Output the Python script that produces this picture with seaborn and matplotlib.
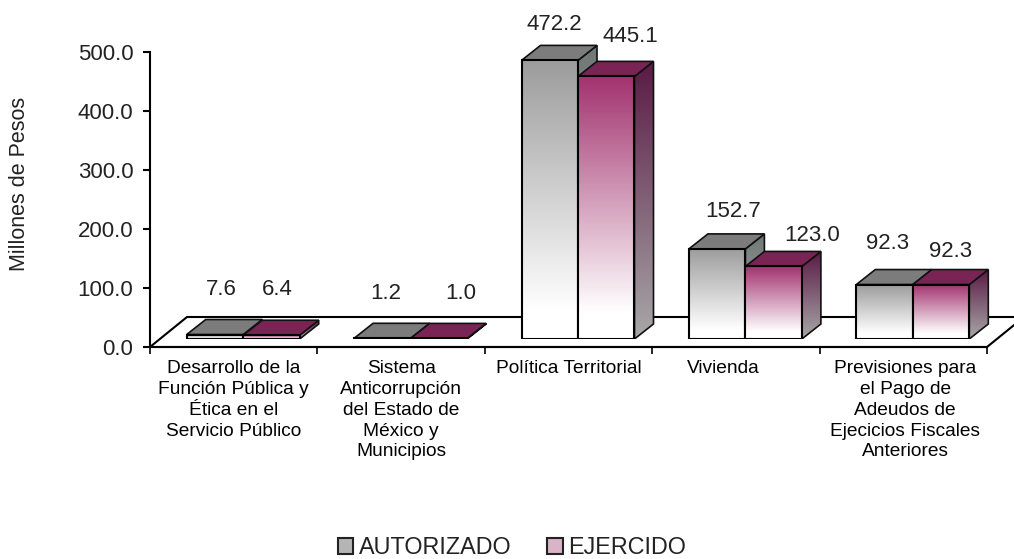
import matplotlib
matplotlib.use('Agg')
import matplotlib.pyplot as plt
import numpy as np
import pandas as pd
import seaborn as sns
from matplotlib.colors import to_rgb
from matplotlib.patches import Patch, Polygon
from matplotlib.ticker import FormatStrFormatter
from matplotlib.transforms import ScaledTranslation

categories = ['Desarrollo de la\nFunción Pública y\nÉtica en el\nServicio Público',
              'Sistema\nAnticorrupción\ndel Estado de\nMéxico y\nMunicipios',
              'Política Territorial',
              'Vivienda',
              'Previsiones para\nel Pago de\nAdeudos de\nEjecicios Fiscales\nAnteriores']
series_names = ['AUTORIZADO', 'EJERCIDO']
autorizado = [7.6, 1.2, 472.2, 152.7, 92.3]
ejercido   = [6.4, 1.0, 445.1, 123.0, 92.3]
y_ticks    = [0, 100, 200, 300, 400, 500]

# label nudges from the top of each bar, in pixels
label_nudges = [[(6, 45), (3, 45), (5, 36), (16, 37), (3, 41)],
                [(6, 46), (22, 45), (24, 40), (38, 31), (10, 33)]]
tick_nudges  = [0, 0, 0, -13, 2]

W, H = 1014, 559
plt_font = 'Liberation Sans'
sns.set_theme(style='white', font=plt_font)

# colours per series: front top, side top, side bottom, top face
styles = [('#9c9c9c', '#6f7876', '#b4b4b4', '#7c7c7c'),
          ('#a2336f', '#5a1a45', '#a8a8a8', '#7a2455')]
text_color = '#222222'

def px_rect(x0, y_bottom, x1, y_top):
    return [x0 / W, 1 - y_bottom / H, (x1 - x0) / W, (y_bottom - y_top) / H]

def gradient_fill(ax, verts, top, bottom, z, reach = 1.0):
    verts = np.array(verts)
    t = np.clip(np.linspace(0, 1, 128) / reach, 0, 1)[:, None]
    ramp = (np.array(to_rgb(top)) * (1 - t) + np.array(to_rgb(bottom)) * t).reshape(128, 1, 3)
    im = ax.imshow(ramp, extent = [verts[:, 0].min(), verts[:, 0].max(), verts[:, 1].min(), verts[:, 1].max()],
                   aspect = 'auto', origin = 'upper', zorder = z, interpolation = 'bilinear')
    im.set_clip_path(Polygon(verts, transform = ax.transData))

fig = plt.figure(figsize = (W / 100, H / 100), dpi = 100)

# Axis frame and floor
base = fig.add_axes(px_rect(150, 347, 987, 52))
base.set_xlim(0, 5)
base.set_ylim(0, 500)
base.patch.set_alpha(0)
for side in ['top', 'right']:
    base.spines[side].set_visible(False)
for side in ['left', 'bottom']:
    base.spines[side].set_linewidth(1.5)
    base.spines[side].set_color('black')

floor_dx, floor_dy = 37 / 167.4, 30 / 0.59
base.add_patch(Polygon([(0, 0), (5, 0), (5 + floor_dx, floor_dy), (floor_dx, floor_dy)], closed = True,
                       facecolor = 'white', edgecolor = 'black', linewidth = 1.5, clip_on = False, zorder = 1))

base.set_yticks(y_ticks)
base.yaxis.set_major_formatter(FormatStrFormatter('%.1f'))
base.tick_params(axis = 'y', left = True, length = 5, width = 1.5, color = 'black', pad = 7,
                 labelsize = 16, labelcolor = text_color)
base.set_xticks(np.arange(6), minor = True)
base.tick_params(axis = 'x', which = 'minor', bottom = True, length = 5, width = 1.2, color = 'black')
base.set_xticks(np.arange(5) + 0.5)
base.set_xticklabels(categories, fontsize = 13.8, color = 'black', linespacing = 1.29, ha = 'center', va = 'top')
base.tick_params(axis = 'x', which = 'major', bottom = False, length = 0, pad = 9.5)
for label, nudge in zip(base.get_xticklabels(), tick_nudges):
    label.set_transform(label.get_transform() + ScaledTranslation(nudge / 100, 0, fig.dpi_scale_trans))

base.set_ylabel('Millones de Pesos', fontsize = 15.5, color = text_color)
base.yaxis.set_label_coords((30 - 150) / 837, (347 - 184) / 295)

# Bars sit a little behind the front edge of the floor
ax = fig.add_axes(px_rect(159.5, 339, 996.5, 44))
df = pd.DataFrame({'category': categories * 2,
                   'serie': np.repeat(series_names, len(categories)),
                   'value': autorizado + ejercido})
sns.barplot(data = df, x = 'category', y = 'value', hue = 'serie', hue_order = series_names,
            width = 0.675, gap = 0, dodge = True, legend = False, ax = ax,
            edgecolor = 'black', linewidth = 1.5)
ax.set_ylim(0, 500)
xlim = ax.get_xlim()

dx, dy = 19 / 167.4, 15 / 0.59
for s, container in enumerate(ax.containers):
    front_top, side_top, side_bottom, top_face = styles[s]
    z = 3 + s
    for i, bar in enumerate(container):
        x0, w, h = bar.get_x(), bar.get_width(), bar.get_height()
        x1 = x0 + w
        bar.set_facecolor('none')
        bar.set_zorder(z + 0.3)
        gradient_fill(ax, [(x0, 0), (x1, 0), (x1, h), (x0, h)], front_top, 'white', z + 0.2, reach = 0.9)
        side = [(x1, 0), (x1 + dx, dy), (x1 + dx, h + dy), (x1, h)]
        gradient_fill(ax, side, side_top, side_bottom, z)
        ax.add_patch(Polygon(side, closed = True, facecolor = 'none', edgecolor = '#111111', linewidth = 1.2, zorder = z + 0.1))
        ax.add_patch(Polygon([(x0, h), (x1, h), (x1 + dx, h + dy), (x0 + dx, h + dy)], closed = True,
                             facecolor = top_face, edgecolor = '#111111', linewidth = 1.2, zorder = z + 0.1))
        nx, ny = label_nudges[s][i]
        ax.annotate(f'{h:.1f}', xy = (x0 + w / 2, h), xytext = (nx * 0.72, ny * 0.72), textcoords = 'offset points',
                    ha = 'center', va = 'center', fontsize = 16, color = text_color, zorder = 10, annotation_clip = False)

ax.set_xlim(xlim)
ax.set_ylim(0, 500)
ax.patch.set_alpha(0)
ax.axis('off')

handles = [Patch(facecolor = '#b5b5b5', edgecolor = '#222222', linewidth = 1.5),
           Patch(facecolor = '#d9b3c8', edgecolor = '#222222', linewidth = 1.5)]
fig.legend(handles, series_names, loc = 'center', bbox_to_anchor = (512 / W, 1 - 547.5 / H), ncol = 2, frameon = False,
           fontsize = 16.8, handlelength = 0.65, handleheight = 0.65, handletextpad = 0.25, columnspacing = 1.55,
           labelcolor = text_color, borderpad = 0, labelspacing = 0)

plt.savefig('out.png', dpi = 100)
